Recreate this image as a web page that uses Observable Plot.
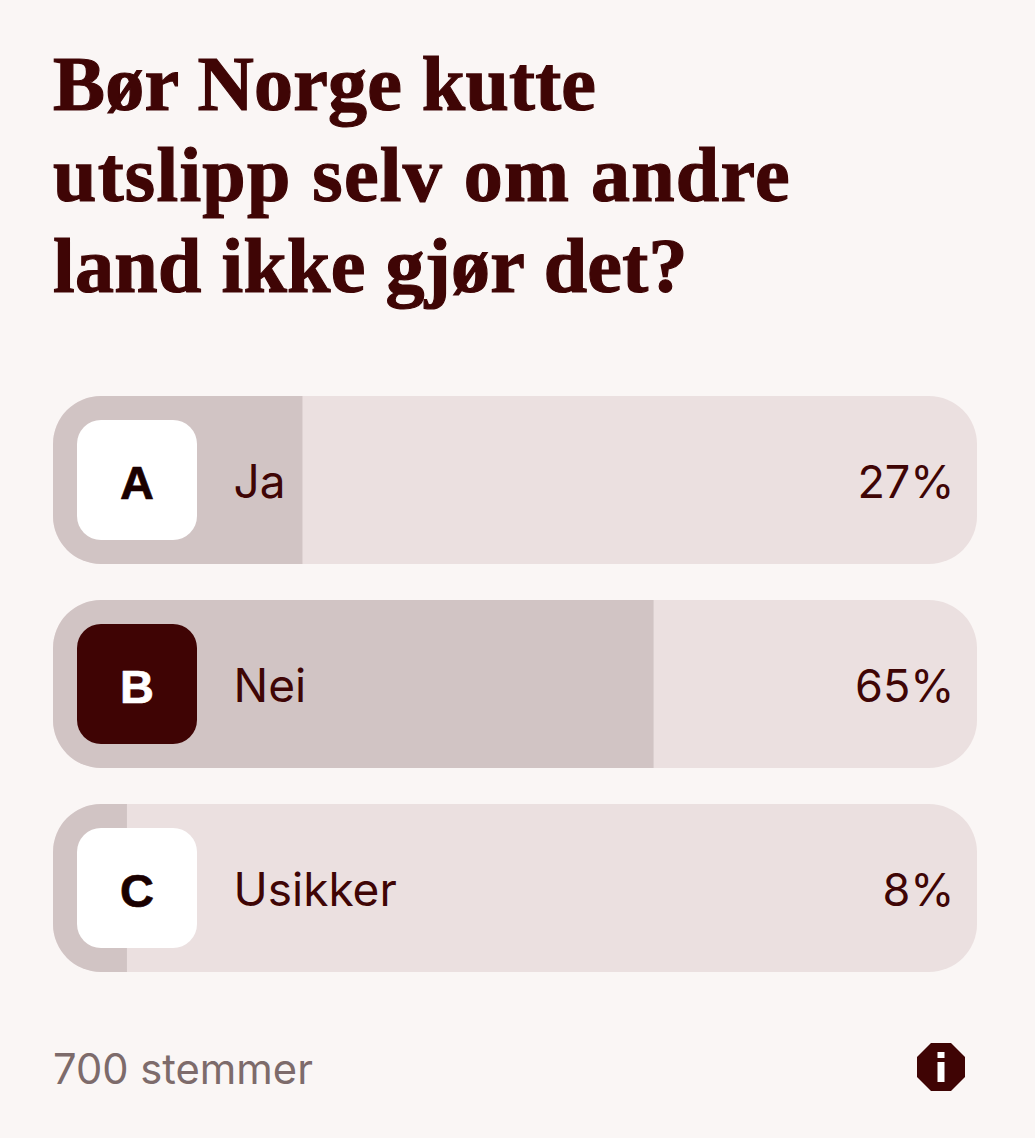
<!DOCTYPE html>
<html lang="no">
<head>
<meta charset="utf-8">
<script src="https://cdn.jsdelivr.net/npm/d3@7"></script>
<script src="https://cdn.jsdelivr.net/npm/@observablehq/plot@0.6"></script>
<style>
html,body{margin:0;padding:0;background:#faf6f5;}
body{width:1035px;height:1138px;overflow:hidden;position:relative;}
h1{position:absolute;left:53px;top:38px;margin:0;font:700 78px/91px "Liberation Serif",serif;-webkit-text-stroke:1.2px #3f0505;color:#3f0505;white-space:nowrap;}
h1 span{display:block;}
#chart{position:absolute;left:0;top:360px;}
#chart svg{display:block;background:transparent;}
#votes{position:absolute;left:53px;top:1044px;font:41.7px/50px "Inter",sans-serif;color:#7d6b6b;}
#info{position:absolute;left:917px;top:1043px;}
</style>
</head>
<body>
<h1><span style="letter-spacing:.2px">Bør Norge kutte</span><span style="letter-spacing:1.25px">utslipp selv om andre</span><span style="letter-spacing:.3px">land ikke gjør det?</span></h1>
<div id="chart"></div>
<div id="votes">700 stemmer</div>
<svg id="info" width="48" height="48" viewBox="0 0 48 48"><polygon points="14,0 34,0 48,14 48,34 34,48 14,48 0,34 0,14" fill="#3f0404"/><rect x="20.5" y="9" width="7" height="6" fill="#fff"/><rect x="20.5" y="19" width="7" height="20" fill="#fff"/></svg>
<script>
const letters = ["A", "B", "C"];
const answers = ["Ja", "Nei", "Usikker"];
const percents = [27, 65, 8];
const selected = "B";

const rows = answers.map((answer, i) => ({letter: letters[i], answer, percent: percents[i]}));
const ink = "#3f0505";
const sans = "Inter, sans-serif";
const letterColor = (d) => d.letter === selected ? "#ffffff" : "#1a0000";

const chart = Plot.plot({
  width: 1035,
  height: 648,
  marginTop: 36,
  marginBottom: 36,
  marginLeft: 53,
  marginRight: 58,
  style: {background: "transparent", overflow: "visible"},
  x: {domain: [0, 100], axis: null},
  y: {domain: answers, axis: null, paddingInner: 36 / 204, paddingOuter: 0},
  marks: [
    Plot.barX(rows, {x1: 0, x2: 100, y: "answer", fill: "#ebe0e0", rx: 48}),
    Plot.barX(rows, {x1: 0, x2: "percent", y: "answer", fill: "#d1c4c4", rx1: 48}),
    Plot.barX(rows, {
      x1: 0, x2: 100, y: "answer",
      fill: (d) => d.letter === selected ? "#3f0404" : "#ffffff",
      insetLeft: 24, insetRight: 780, insetTop: 24, insetBottom: 24, rx: 24
    }),
    Plot.text(rows, {
      x: 0, y: "answer", text: "letter", dx: 83.5, dy: 3,
      fill: letterColor, stroke: letterColor, strokeWidth: 0.7,
      fontFamily: "Liberation Sans, sans-serif", fontWeight: 700, fontSize: 47
    }),
    Plot.text(rows, {
      x: 0, y: "answer", text: "answer", dx: 180, dy: 3, textAnchor: "start",
      fill: ink, fontFamily: sans, fontSize: 46
    }),
    Plot.text(rows, {
      x: 100, y: "answer", text: (d) => `${d.percent}%`, dx: -23, dy: 3, textAnchor: "end",
      fill: ink, fontFamily: sans, fontSize: 45, letterSpacing: -0.7
    })
  ]
});
document.getElementById("chart").append(chart);
</script>
</body>
</html>
